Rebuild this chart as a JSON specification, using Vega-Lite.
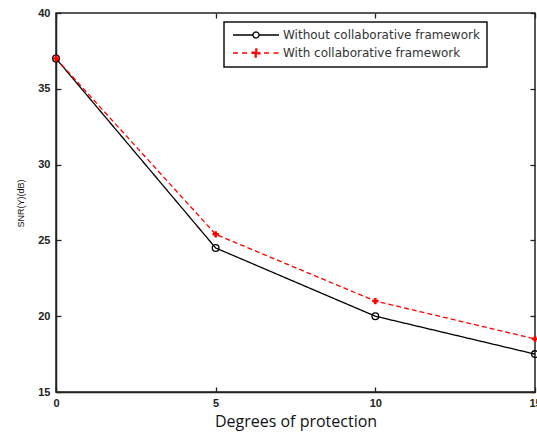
{
  "$schema": "https://vega.github.io/schema/vega-lite/v6.json",
  "width": 479,
  "height": 379,
  "autosize": "none",
  "padding": {"left": 56, "top": 13, "right": 2, "bottom": 42},
  "background": "white",
  "config": {
    "view": {"stroke": "#222", "strokeWidth": 1.5},
    "font": "Liberation Sans",
    "axis": {
      "domainColor": "#222",
      "domainWidth": 1.5,
      "tickColor": "#222",
      "tickWidth": 1.3,
      "grid": false,
      "zindex": 1,
      "labelColor": "#222",
      "labelFont": "Liberation Sans",
      "labelFontSize": 11,
      "labelFontWeight": "bold",
      "titleColor": "#111",
      "titleFontWeight": "normal"
    }
  },
  "data": {
    "values": [
      {"deg": 0, "snr": 37.0, "series": "Without collaborative framework"},
      {"deg": 5, "snr": 24.5, "series": "Without collaborative framework"},
      {"deg": 10, "snr": 20.0, "series": "Without collaborative framework"},
      {"deg": 15, "snr": 17.5, "series": "Without collaborative framework"},
      {"deg": 0, "snr": 37.0, "series": "With collaborative framework"},
      {"deg": 5, "snr": 25.4, "series": "With collaborative framework"},
      {"deg": 10, "snr": 21.0, "series": "With collaborative framework"},
      {"deg": 15, "snr": 18.5, "series": "With collaborative framework"}
    ]
  },
  "layer": [
    {
      "mark": {"type": "line", "strokeWidth": 1.3},
      "encoding": {
        "x": {
          "field": "deg", "type": "quantitative",
          "scale": {"domain": [0, 15], "nice": false},
          "axis": {"values": [0, 5, 10, 15], "ticks": true, "tickSize": -5, "title": "Degrees of protection", "titleFont": "Open Sans", "titleFontSize": 16, "labelPadding": 10, "titleY": 34, "titleBaseline": "alphabetic", "labelFlush": false}
        },
        "y": {
          "field": "snr", "type": "quantitative",
          "scale": {"domain": [15, 40], "nice": false},
          "axis": {"values": [15, 20, 25, 30, 35, 40], "ticks": true, "tickSize": -5, "title": "SNR(Y)(dB)", "titleFontSize": 9, "titleX": -31, "titleY": 190, "labelPadding": 11}
        },
        "color": {
          "field": "series", "type": "nominal",
          "scale": {"domain": ["Without collaborative framework", "With collaborative framework"], "range": ["#000000", "#ff0000"]},
          "legend": {
            "title": null,
            "orient": "none",
            "legendX": 168,
            "legendY": 9,
            "strokeColor": "#111",
            "padding": 7,
            "fillColor": "white",
            "labelFont": "DejaVu Sans",
            "labelFontSize": 12,
            "labelColor": "#333",
            "labelLimit": 600,
            "symbolSize": 100,
            "symbolOffset": 19,
            "labelOffset": 21,
            "symbolStrokeWidth": 1.3,
            "rowPadding": 5,
            "labelExpr": "datum.label + '\u00a0\u00a0\u00a0\u00a0\u00a0\u00a0\u00a0\u00a0\u00a0\u00a0\u00a0'",
            "encode": {
              "legend": {"update": {"strokeWidth": {"value": 1.5}}},
              "symbols": {
                "update": {
                  "shape": {"signal": "datum.value === 'With collaborative framework' ? 'M-4.6,0H-3.5M-2.8,0H-1.6M-0.9,0H0.9M1.6,0H2.8M3.5,0H4.6M-0.16,-0.8H0.16V-0.16H0.8V0.16H0.16V0.8H-0.16V0.16H-0.8V-0.16H-0.16Z' : 'M-4.6,0H-0.6M0.6,0H4.6M0.6,0A0.6,0.6 0 1,1 -0.6,0A0.6,0.6 0 1,1 0.6,0'"},
                  "fill": {"signal": "datum.value === 'With collaborative framework' ? '#ff0000' : 'transparent'"}
                }
              }
            }
          }
        },
        "strokeDash": {
          "field": "series", "type": "nominal",
          "scale": {"domain": ["Without collaborative framework", "With collaborative framework"], "range": [[1, 0], [5, 3]]},
          "legend": null
        }
      }
    },
    {
      "transform": [{"filter": "datum.series === 'Without collaborative framework'"}],
      "mark": {"type": "point", "shape": "circle", "filled": false, "color": "#000000", "strokeWidth": 1.3, "size": 45, "opacity": 1},
      "encoding": {
        "x": {"field": "deg", "type": "quantitative", "axis": null},
        "y": {"field": "snr", "type": "quantitative", "axis": null}
      }
    },
    {
      "transform": [{"filter": "datum.series === 'With collaborative framework'"}],
      "mark": {"type": "point", "shape": "cross", "filled": true, "color": "#ff0000", "size": 40, "opacity": 1},
      "encoding": {
        "x": {"field": "deg", "type": "quantitative", "axis": null},
        "y": {"field": "snr", "type": "quantitative", "axis": null}
      }
    },
    {
      "mark": {"type": "point", "opacity": 0},
      "encoding": {
        "x": {"field": "deg", "type": "quantitative", "axis": {"orient": "top", "values": [0, 5, 10, 15], "ticks": true, "tickSize": -5, "labels": false, "title": null, "domain": false}},
        "y": {"field": "snr", "type": "quantitative", "axis": {"orient": "right", "values": [15, 20, 25, 30, 35, 40], "ticks": true, "tickSize": -5, "labels": false, "title": null, "domain": false}}
      }
    }
  ],
  "resolve": {"axis": {"x": "independent", "y": "independent"}}
}
